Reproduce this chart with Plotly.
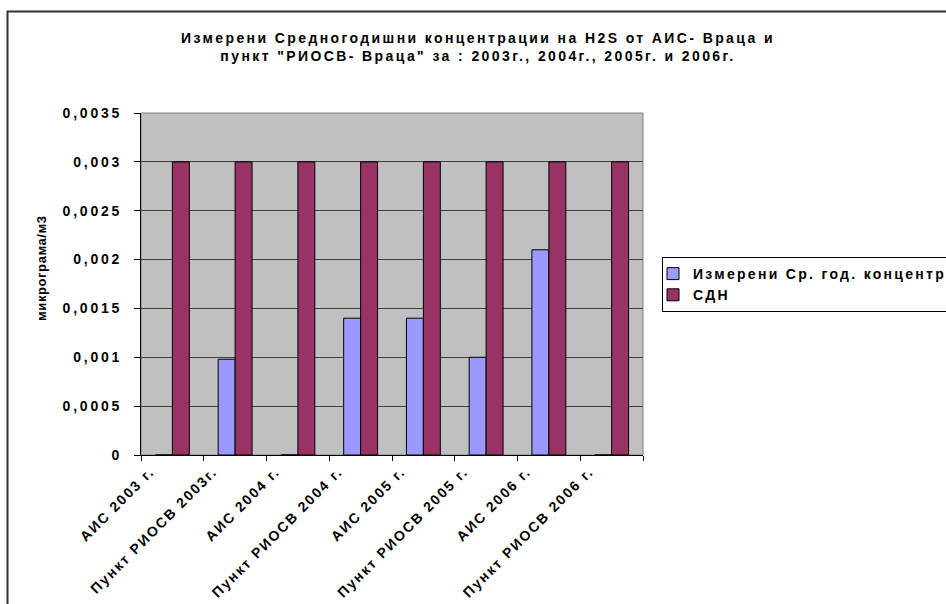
import plotly.graph_objects as go

# ---- data ----
categories = ["АИС 2003 г.", "Пункт РИОСВ 2003г.", "АИС 2004 г.", "Пункт РИОСВ 2004 г.",
              "АИС 2005 г.", "Пункт РИОСВ 2005 г.", "АИС 2006 г.", "Пункт РИОСВ 2006 г."]
measured = [0, 0.00098, 0, 0.0014, 0.0014, 0.001, 0.0021, 0]
sdn = [0.003, 0.003, 0.003, 0.003, 0.003, 0.003, 0.003, 0.003]
series_names = ["Измерени Ср. год. концентр", "СДН"]
y_tickvals = [0, 0.0005, 0.001, 0.0015, 0.002, 0.0025, 0.003, 0.0035]
y_ticktext = ["0", "0,0005", "0,001", "0,0015", "0,002", "0,0025", "0,003", "0,0035"]
title_text = ("Измерени Средногодишни концентрации на H2S от АИС- Враца и<br>"
              "пункт \"РИОСВ- Враца\" за : 2003г., 2004г., 2005г. и 2006г.")
y_title = "микрограма/м3"

FONT = "Liberation Sans, Arial, sans-serif"

fig = go.Figure()
fig.add_trace(go.Bar(x=categories, y=measured, name=series_names[0],
                     marker=dict(color="#9999FF", line=dict(color="black", width=1))))
fig.add_trace(go.Bar(x=categories, y=sdn, name=series_names[1],
                     marker=dict(color="#993366", line=dict(color="black", width=1))))

fig.update_layout(
    width=946, height=604,
    margin=dict(l=141, r=303, t=113, b=149, autoexpand=False),
    paper_bgcolor="white",
    plot_bgcolor="#C0C0C0",
    barmode="group", bargap=0.46, bargroupgap=0,
    font=dict(family=FONT, color="black", size=14, weight="bold"),
    title=dict(text=title_text, x=478 / 946, xanchor="center", xref="container",
               y=1 - 43 / 604, yanchor="top", yref="container",
               font=dict(family=FONT, size=14, color="black", weight="bold")),
    showlegend=True,
    legend=dict(x=(662 - 141) / 502, xanchor="left", y=(455 - 257) / 342, yanchor="top",
                bordercolor="black", borderwidth=1, bgcolor="white",
                traceorder="normal", indentation=-10,
                font=dict(family=FONT, size=14, color="black", weight="bold")),
    xaxis=dict(type="category", showgrid=False, showline=True, linecolor="black", linewidth=1,
               ticks="outside", tickson="boundaries", ticklen=5, tickcolor="black",
               tickangle=-45, ticklabelshift=-22, ticklabelstandoff=2,
               tickfont=dict(family=FONT, size=14, weight="bold")),
    yaxis=dict(range=[0, 0.0035], tickvals=y_tickvals, ticktext=y_ticktext,
               showgrid=True, gridcolor="#404040", gridwidth=1,
               showline=True, linecolor="black", linewidth=1,
               ticks="outside", ticklen=6, tickcolor="black", ticklabelstandoff=9,
               zeroline=False, tickfont=dict(family=FONT, size=14, weight="bold")),
    shapes=[
        dict(type="rect", xref="paper", yref="paper", x0=0, x1=1, y0=0, y1=1,
             line=dict(color="#808080", width=1), layer="below"),
        dict(type="rect", xref="paper", yref="paper",
             x0=(7.5 - 141) / 502, x1=(980 - 141) / 502,
             y0=(455 - 640) / 342, y1=(455 - 11.5) / 342,
             line=dict(color="#333333", width=2), fillcolor="rgba(0,0,0,0)", layer="above"),
    ],
    annotations=[
        dict(text=y_title, xref="paper", yref="paper", x=(41 - 141) / 502, y=(455 - 268) / 342,
             xanchor="center", yanchor="middle", textangle=-90, showarrow=False,
             font=dict(family=FONT, size=13, color="black", weight="bold")),
    ],
)

post = """
document.body.style.margin = '0';
var gd = document.getElementById('{plot_id}');
var st = document.createElement('style');
st.textContent = '.gtitle{letter-spacing:2.4px} .legendtext{letter-spacing:2.3px} ' +
                 '.xtick text{letter-spacing:1.9px} .ytick text{letter-spacing:2.8px} ' +
                 '.annotation-text{letter-spacing:0.6px}';
document.head.appendChild(st);
return Plotly.relayout(gd, {'legend.font.size': 14.001});
"""

fig.write_html("out.html", post_script=post, config={"displayModeBar": False})
